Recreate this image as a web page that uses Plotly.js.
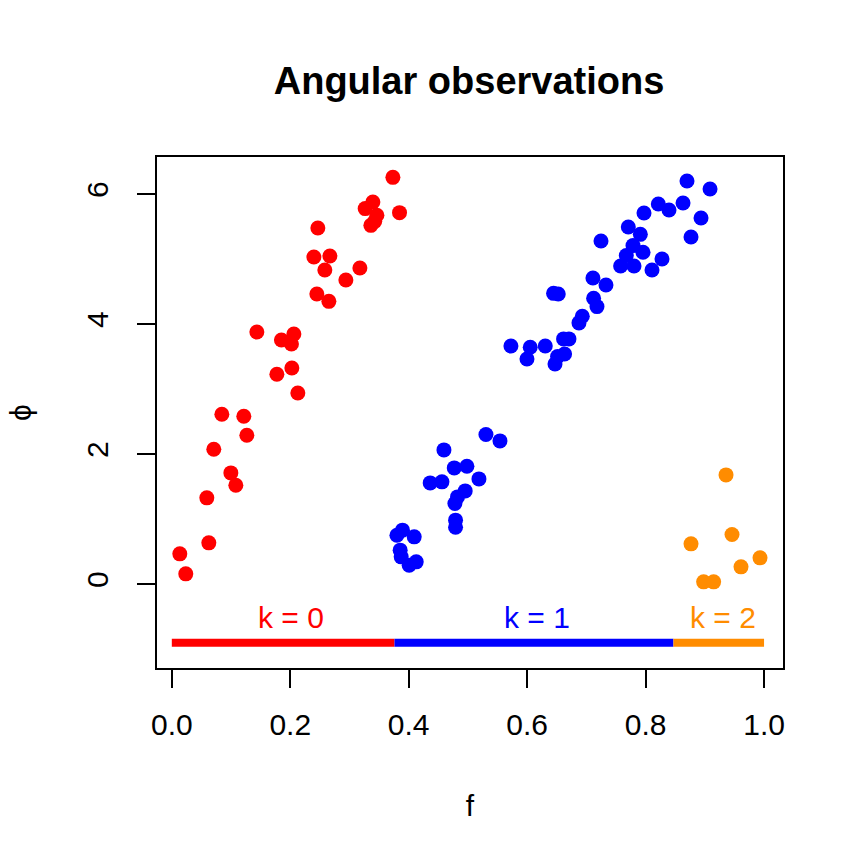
<!DOCTYPE html>
<html>
<head>
<meta charset="utf-8">
<script src="https://cdn.plot.ly/plotly-3.0.1.min.js"></script>
<style>html,body{margin:0;padding:0;background:#fff;}#plot{width:864px;height:864px;}</style>
</head>
<body>
<div id="plot"></div>
<script>
// k = 0 observations (red)
const f0 = [0.0135,0.0236,0.0591,0.0625,0.0709,0.0845,0.0997,0.1081,0.1216,0.1267,0.1436,0.1774,0.1851,0.2061,0.2020,0.2027,0.2128,0.2399,0.2466,0.2669,0.2584,0.2449,0.2652,0.2939,0.3176,0.3265,0.3395,0.3463,0.3361,0.3426,0.3733,0.3845];
const phi0 = [0.466,0.158,1.327,0.635,2.075,2.613,1.711,1.522,2.583,2.291,3.879,3.228,3.756,3.848,3.694,3.325,2.941,5.032,5.477,5.047,4.832,4.463,4.350,4.678,4.862,5.776,5.877,5.673,5.519,5.580,6.257,5.714];
// k = 1 observations (blue)
const f1 = [0.5304,0.5541,0.4595,0.4769,0.4983,0.4363,0.4561,0.5186,0.4954,0.4824,0.4780,0.4791,0.4791,0.3895,0.3801,0.4093,0.3856,0.3873,0.4008,0.4127,0.8699,0.9088,0.8215,0.8395,0.8632,0.7973,0.8936,0.8767,0.7708,0.7911,0.7247,0.7787,0.7956,0.7674,0.7578,0.7804,0.8277,0.8108,0.7111,0.7331,0.6446,0.6525,0.7122,0.7179,0.6931,0.6875,0.6615,0.6706,0.5726,0.6052,0.6306,0.5997,0.6632,0.6514,0.6470];
const phi1 = [2.301,2.203,2.065,1.788,1.814,1.557,1.573,1.619,1.434,1.342,1.241,0.984,0.876,0.830,0.753,0.727,0.523,0.420,0.292,0.343,6.200,6.077,5.846,5.754,5.862,5.708,5.631,5.339,5.493,5.380,5.278,5.207,5.104,5.053,4.893,4.893,5.001,4.832,4.709,4.601,4.473,4.463,4.397,4.269,4.120,4.018,3.772,3.772,3.663,3.643,3.663,3.463,3.540,3.500,3.387];
// k = 2 observations (orange)
const f2 = [0.9358,0.9459,0.8767,0.9932,0.9611,0.8980,0.9149];
const phi2 = [1.680,0.764,0.620,0.404,0.266,0.035,0.035];

// k intervals along f
const segStart = [0.0, 0.376, 0.847];
const segEnd = [0.376, 0.847, 1.0];
const segLevel = -0.9;
const kLabels = ["k = 0", "k = 1", "k = 2"];
const labelX = [0.2007, 0.6166, 0.930];
const colors = ["#FF0000", "#0000FF", "#FF8C00"];

const fs = [f0, f1, f2];
const phis = [phi0, phi1, phi2];

const font = "Liberation Sans, Arial, sans-serif";
const traces = [];
for (let k = 0; k < 3; k++) {
  traces.push({
    type: "scatter", mode: "lines",
    x: [segStart[k], segEnd[k]], y: [segLevel, segLevel],
    line: {color: colors[k], width: 8},
    hoverinfo: "skip", showlegend: false, cliponaxis: false
  });
}
for (let k = 0; k < 3; k++) {
  traces.push({
    type: "scatter", mode: "markers",
    x: fs[k], y: phis[k],
    marker: {color: colors[k], size: 15, line: {width: 0}},
    showlegend: false
  });
}

const annotations = kLabels.map((t, k) => ({
  x: labelX[k], y: segLevel, xref: "x", yref: "y",
  text: t, showarrow: false, yanchor: "bottom", yshift: 7,
  font: {family: font, size: 30, color: colors[k]}
}));

const layout = {
  width: 864, height: 864,
  margin: {l: 157, r: 81, t: 157, b: 196},
  paper_bgcolor: "#fff", plot_bgcolor: "#fff",
  font: {family: font, size: 30, color: "#000"},
  title: {text: "<b>Angular observations</b>", x: 0.5429, xanchor: "center", y: 0.907, yanchor: "middle",
          font: {family: font, size: 38, color: "#000"}},
  xaxis: {
    range: [-0.025, 1.032], tickvals: [0, 0.2, 0.4, 0.6, 0.8, 1.0], ticktext: ["0.0","0.2","0.4","0.6","0.8","1.0"],
    ticks: "outside", ticklen: 18, tickwidth: 2, tickcolor: "#000",
    showline: true, linewidth: 2, linecolor: "#000", mirror: true,
    showgrid: false, zeroline: false,
    tickfont: {family: font, size: 30}, ticklabelstandoff: 11,
    title: {text: "f", font: {family: font, size: 30}, standoff: 55}
  },
  yaxis: {
    range: [-1.29, 6.57], tickvals: [0, 2, 4, 6],
    ticks: "outside", ticklen: 18, tickwidth: 2, tickcolor: "#000",
    showline: true, linewidth: 2, linecolor: "#000", mirror: true,
    showgrid: false, zeroline: false, tickangle: -90,
    tickfont: {family: font, size: 30}, ticklabelstandoff: 17,
    title: {text: "ϕ", font: {family: font, size: 30}, standoff: 41}
  },
  annotations: annotations
};

Plotly.newPlot("plot", traces, layout, {displayModeBar: false, staticPlot: true});
</script>
</body>
</html>
